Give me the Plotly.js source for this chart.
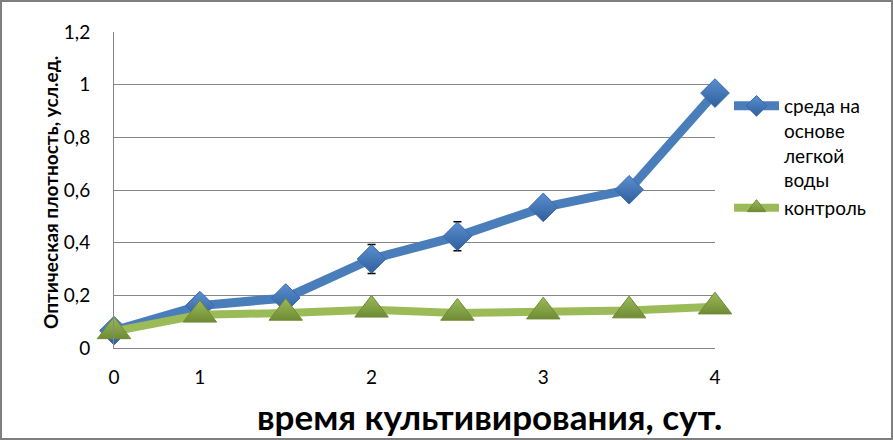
<!DOCTYPE html>
<html><head><meta charset="utf-8">
<script src="https://cdn.plot.ly/plotly-3.0.1.min.js"></script>
<style>html,body{margin:0;padding:0;background:#fff}#chart{width:893px;height:440px}</style>
</head><body><div id="chart"></div>
<script>
const categories = ["0","1","1.5","2","2.5","3","3.5","4"];
const tickLabels = ["0","1","","2","","3","","4"];
const lightWater = [0.066,0.161,0.19,0.338,0.424,0.534,0.601,0.968];
const lightWaterErr = [0,0,0,0.055,0.055,0,0,0];
const control = [0.063,0.126,0.133,0.145,0.133,0.138,0.142,0.157];
const seriesNames = ["среда на<br>основе<br>легкой<br>воды","контроль"];
const yTitle = "Оптическая плотность, усл.ед.";
const xTitle = "время культивирования, сут.";

const L = 114, R = 715, T = 32, B = 348, W = 893, H = 440;
const px = p => (p - L) / (R - L);
const py = p => (B - p) / (B - T);

const traces = [
  {
    x: categories, y: lightWater, name: seriesNames[0], type: 'scatter', mode: 'lines+markers',
    line: {color: '#4A7EBB', width: 9},
    marker: {symbol: 'diamond', size: 22, color: '#5b8fd0',
      gradient: {type: 'vertical', color: '#2f5f9c'},
      line: {color: '#3a6aa8', width: 1}},
    error_y: {type: 'data', array: lightWaterErr, visible: true, color: '#000', thickness: 1.5, width: 4},
    cliponaxis: false
  },
  {
    x: categories, y: control, name: seriesNames[1], type: 'scatter', mode: 'lines+markers',
    line: {color: '#9BBB59', width: 8},
    marker: {symbol: 'triangle-up', size: 29, color: '#9BBB59',
      gradient: {type: 'vertical', color: '#6f8b35'},
      line: {color: '#6f8b35', width: 1}},
    cliponaxis: false
  }
];

const layout = {
  width: W, height: H,
  margin: {l: L, r: W - R, t: T, b: H - B, pad: 0},
  paper_bgcolor: '#fff', plot_bgcolor: '#fff',
  font: {family: 'Lato, sans-serif', color: '#000'},
  separators: ', ',
  showlegend: true,
  legend: {x: px(729), y: py(87), xanchor: 'left', yanchor: 'top',
    font: {family: 'Lato, sans-serif', size: 19, color: '#000'},
    bgcolor: 'rgba(0,0,0,0)', itemwidth: 45, valign: 'top', tracegroupgap: 2},
  xaxis: {type: 'category', range: [0, 7], tickvals: categories, ticktext: tickLabels,
    showgrid: false, zeroline: false, showline: true, linecolor: '#868686', linewidth: 1,
    ticks: 'outside', ticklen: 12, tickcolor: 'rgba(0,0,0,0)',
    tickfont: {family: 'Lato, sans-serif', size: 19, color: '#000'}},
  yaxis: {range: [0, 1.2], dtick: 0.2, tick0: 0, showgrid: true, gridcolor: '#868686', gridwidth: 1,
    zeroline: false, showline: true, linecolor: '#868686', linewidth: 1,
    ticks: '', ticklabelstandoff: 19,
    tickfont: {family: 'Lato, sans-serif', size: 19, color: '#000'}},
  annotations: [
    {text: yTitle, xref: 'paper', yref: 'paper', x: px(50), y: py(193), showarrow: false,
      textangle: -90, xanchor: 'center', yanchor: 'middle',
      font: {family: 'Lato, sans-serif', size: 19, color: '#000', weight: 'bold'}},
    {text: xTitle, xref: 'paper', yref: 'paper', x: px(489), y: py(416), showarrow: false,
      xanchor: 'center', yanchor: 'middle',
      font: {family: 'Lato, sans-serif', size: 35, color: '#000', weight: 'bold'}}
  ],
  shapes: [
    {type: 'rect', xref: 'paper', yref: 'paper', x0: px(1), x1: px(892), y0: py(439), y1: py(1),
      line: {color: '#7f7f7f', width: 2}, fillcolor: 'rgba(0,0,0,0)', layer: 'above'}
  ]
};

Plotly.newPlot('chart', traces, layout, {staticPlot: true, displayModeBar: false});
</script></body></html>
